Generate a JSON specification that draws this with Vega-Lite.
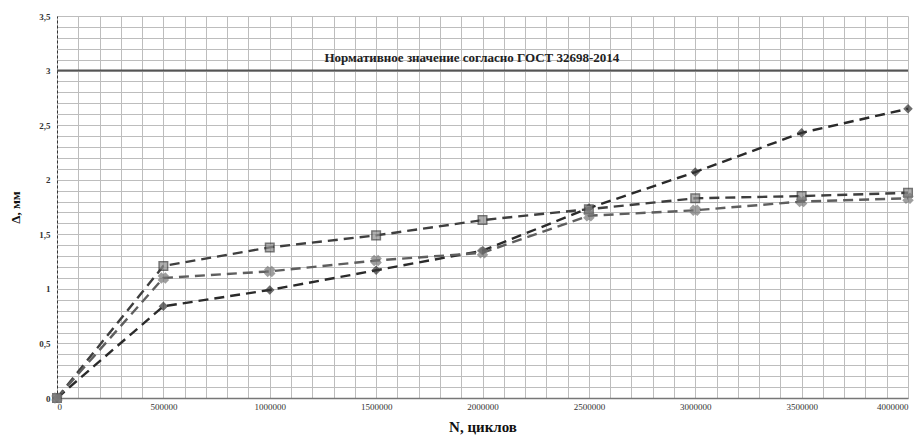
{
  "$schema": "https://vega.github.io/schema/vega-lite/v6.json",
  "autosize": {"type": "none"},
  "width": 851,
  "height": 382,
  "padding": {"left": 57, "top": 16, "right": 13, "bottom": 40},
  "background": "white",
  "config": {
    "view": {"stroke": null},
    "font": "Liberation Serif",
    "axis": {"labelFont": "Liberation Serif", "titleFont": "Liberation Serif", "labelColor": "#222", "titleColor": "#111"}
  },
  "datasets": {
    "series": [
      {"series": "A", "N": 0, "d": 0},
      {"series": "A", "N": 500000, "d": 0.84},
      {"series": "A", "N": 1000000, "d": 0.99},
      {"series": "A", "N": 1500000, "d": 1.17},
      {"series": "A", "N": 2000000, "d": 1.35},
      {"series": "A", "N": 2500000, "d": 1.74},
      {"series": "A", "N": 3000000, "d": 2.07},
      {"series": "A", "N": 3500000, "d": 2.43},
      {"series": "A", "N": 4000000, "d": 2.65},
      {"series": "B", "N": 0, "d": 0},
      {"series": "B", "N": 500000, "d": 1.21},
      {"series": "B", "N": 1000000, "d": 1.38},
      {"series": "B", "N": 1500000, "d": 1.49},
      {"series": "B", "N": 2000000, "d": 1.63},
      {"series": "B", "N": 2500000, "d": 1.73},
      {"series": "B", "N": 3000000, "d": 1.83},
      {"series": "B", "N": 3500000, "d": 1.85},
      {"series": "B", "N": 4000000, "d": 1.88},
      {"series": "C", "N": 0, "d": 0},
      {"series": "C", "N": 500000, "d": 1.1},
      {"series": "C", "N": 1000000, "d": 1.16},
      {"series": "C", "N": 1500000, "d": 1.26},
      {"series": "C", "N": 2000000, "d": 1.33},
      {"series": "C", "N": 2500000, "d": 1.67},
      {"series": "C", "N": 3000000, "d": 1.72},
      {"series": "C", "N": 3500000, "d": 1.8},
      {"series": "C", "N": 4000000, "d": 1.83}
    ],
    "norm": [
      {"N": 0, "N2": 4000000, "d": 3}
    ],
    "normlabel": [
      {"N": 1950000, "d": 3, "label": "Нормативное значение согласно ГОСТ 32698-2014"}
    ]
  },
  "encoding": {
    "x": {
      "field": "N", "type": "quantitative",
      "scale": {"domain": [0, 4000000], "nice": false},
      "axis": {
        "title": "N, циклов",
        "titleFontSize": 15, "titleFontWeight": "bold", "titlePadding": 8,
        "values": [0,100000,200000,300000,400000,500000,600000,700000,800000,900000,1000000,1100000,1200000,1300000,1400000,1500000,1600000,1700000,1800000,1900000,2000000,2100000,2200000,2300000,2400000,2500000,2600000,2700000,2800000,2900000,3000000,3100000,3200000,3300000,3400000,3500000,3600000,3700000,3800000,3900000,4000000],
        "labelExpr": "datum.value % 500000 == 0 ? format(datum.value, 'd') : ''",
        "labelFontSize": 9, "labelPadding": 4, "labelColor": "#333",
        "ticks": false,
        "grid": true, "gridColor": "#bdbdbd", "gridWidth": 1,
        "domainColor": "#777", "domainWidth": 1.5
      }
    },
    "y": {
      "field": "d", "type": "quantitative",
      "scale": {"domain": [0, 3.5], "nice": false},
      "axis": {
        "title": "Δ, мм",
        "titleFontSize": 13, "titleFontWeight": "bold", "titlePadding": 16,
        "values": [0,0.1,0.2,0.3,0.4,0.5,0.6,0.7,0.8,0.9,1,1.1,1.2,1.3,1.4,1.5,1.6,1.7,1.8,1.9,2,2.1,2.2,2.3,2.4,2.5,2.6,2.7,2.8,2.9,3,3.1,3.2,3.3,3.4,3.5],
        "labelExpr": "round(datum.value * 10) % 5 == 0 ? replace(format(datum.value, '~g'), '.', ',') : ''",
        "labelFontSize": 9, "labelFontWeight": "bold", "labelPadding": 7, "labelColor": "#333",
        "ticks": false,
        "grid": true, "gridColor": "#bdbdbd", "gridWidth": 1,
        "domainColor": "#333", "domainDash": [3, 2], "domainWidth": 1
      }
    }
  },
  "layer": [
    {
      "data": {"name": "norm"},
      "mark": {"type": "rule", "color": "#555", "strokeWidth": 2},
      "encoding": {"x2": {"field": "N2"}}
    },
    {
      "data": {"name": "normlabel"},
      "mark": {"type": "text", "font": "Liberation Serif", "fontWeight": "bold", "fontSize": 13, "color": "#222", "dy": -13},
      "encoding": {"text": {"field": "label"}}
    },
    {
      "data": {"name": "series"},
      "mark": {"type": "line", "strokeDash": [10, 6], "strokeWidth": 2.4},
      "encoding": {
        "color": {"field": "series", "type": "nominal", "legend": null,
          "scale": {"domain": ["A", "B", "C"], "range": ["#2a2a2a", "#3e3e3e", "#5e5e5e"]}}
      }
    },
    {
      "data": {"name": "series"},
      "mark": {"type": "point", "filled": true, "strokeWidth": 1.5},
      "encoding": {
        "shape": {"field": "series", "type": "nominal", "legend": null,
          "scale": {"domain": ["A", "B", "C"], "range": ["diamond", "square", "cross"]}},
        "angle": {"field": "series", "type": "nominal", "legend": null,
          "scale": {"type": "ordinal", "domain": ["A", "B", "C"], "range": [0, 0, 45]}},
        "size": {"field": "series", "type": "nominal", "legend": null,
          "scale": {"domain": ["A", "B", "C"], "range": [55, 90, 30]}},
        "fill": {"field": "series", "type": "nominal", "legend": null,
          "scale": {"domain": ["A", "B", "C"], "range": ["#333", "#8e8e8e", "#777"]}},
        "stroke": {"field": "series", "type": "nominal", "legend": null,
          "scale": {"domain": ["A", "B", "C"], "range": ["#333", "#3a3a3a", "#777"]}}
      }
    }
  ]
}
